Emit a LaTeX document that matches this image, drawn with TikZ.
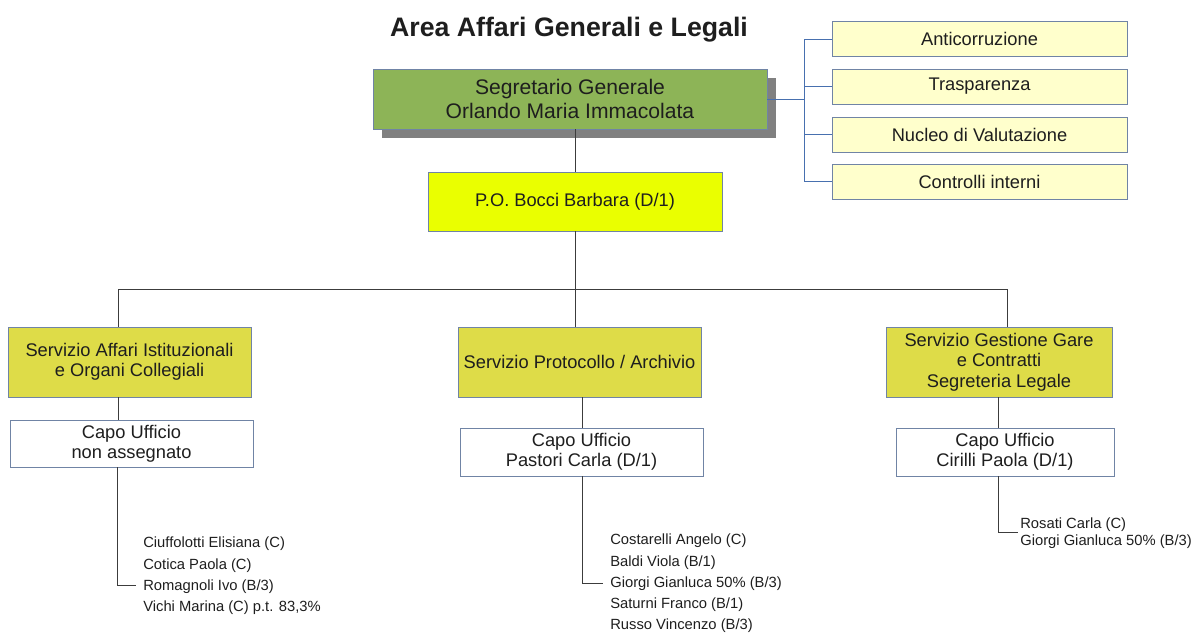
\documentclass[tikz,border=0pt]{standalone}
\usepackage{fontspec}
\setmainfont{Liberation Sans}
\usepackage{tikz}
\usetikzlibrary{shadows}
\definecolor{verde}{RGB}{141,180,87}
\definecolor{giallo}{RGB}{234,255,0}
\definecolor{oliva}{RGB}{222,220,72}
\definecolor{crema}{RGB}{255,255,204}
\definecolor{bordo}{RGB}{112,132,165}
\definecolor{blu}{RGB}{72,112,175}
\definecolor{linea}{RGB}{60,60,60}
\definecolor{testo}{RGB}{30,30,30}

\begin{document}
\begin{tikzpicture}[x=0.025cm, y=-0.025cm,
    box/.style={draw=bordo, line width=0.6pt, align=center, inner sep=0pt, text=testo,
        font=\fontsize{13}{14.5}\selectfont},
    ufficio/.style={box, fill=white},
    servizio/.style={box, fill=oliva, minimum height=1.75cm},
    staff/.style={anchor=north west, align=left, inner sep=0pt, text=testo},
    filo/.style={draw=linea, line width=0.6pt}]
    \useasboundingbox (0,0) rectangle (1198,632);

    \node[anchor=base, font=\bfseries\fontsize{19}{21}\selectfont, text=testo] (titolo) at (569,36) {Area Affari Generali e Legali};

    \node[box, fill=verde, minimum width=9.85cm, minimum height=1.5cm, font=\fontsize{15}{16.5}\selectfont,
        drop shadow={shadow xshift=0.225cm, shadow yshift=-0.225cm, fill=black!50, opacity=1}] (seg) at (570,99) {Segretario Generale\\Orlando Maria Immacolata};
    \node[box, fill=giallo, minimum width=7.35cm, minimum height=1.475cm] (po) at (575,201.5) {P.O. Bocci Barbara (D/1)};

    \coordinate (ramo) at (804,99);
    \draw[blu, line width=0.6pt] (seg.east) -- (ramo);
    \foreach \t/\y/\n in {Anticorruzione/39/anti, Trasparenza/86.5/tras, Nucleo di Valutazione/134.5/nucl, Controlli interni/181.5/ctrl}{
        \node[box, fill=crema, minimum width=7.375cm, minimum height=0.875cm] (\n) at (979.5,\y) {\t};
        \draw[blu, line width=0.6pt] (ramo |- \n) -- (\n.west);
    }
    \draw[blu, line width=0.6pt] (ramo |- anti) -- (ramo |- ctrl);

    \node[servizio, minimum width=6.075cm] (svcA) at (129.5,362) {Servizio Affari Istituzionali\\e Organi Collegiali};
    \node[servizio, minimum width=6.075cm] (svcB) at (579.5,362) {Servizio Protocollo / Archivio};
    \node[servizio, minimum width=5.65cm] (svcC) at (999,362) {Servizio Gestione Gare\\e Contratti\\Segreteria Legale};

    \node[ufficio, minimum width=6.075cm, minimum height=1.175cm] (capoA) at (131.5,443.5) {Capo Ufficio\\non assegnato};
    \node[ufficio, minimum width=6.075cm, minimum height=1.2cm] (capoB) at (581.5,452) {Capo Ufficio\\Pastori Carla (D/1)};
    \node[ufficio, minimum width=5.45cm, minimum height=1.2cm] (capoC) at (1005,452) {Capo Ufficio\\Cirilli Paola (D/1)};

    \node[staff, font=\fontsize{10.5}{15}\selectfont] (staffA) at (143,537) {Ciuffolotti Elisiana (C)\\Cotica Paola (C)\\Romagnoli Ivo (B/3)\\Vichi Marina (C) p.t. 83,3\%};
    \node[staff, font=\fontsize{10.5}{15}\selectfont] (staffB) at (610,534) {Costarelli Angelo (C)\\Baldi Viola (B/1)\\Giorgi Gianluca 50\% (B/3)\\Saturni Franco (B/1)\\Russo Vincenzo (B/3)};
    \node[staff, font=\fontsize{10.5}{11.5}\selectfont] (staffC) at (1020,518) {Rosati Carla (C)\\Giorgi Gianluca 50\% (B/3)};

    \coordinate (asse) at (575,289);
    \coordinate (busL) at (118,289);
    \coordinate (busR) at (1007,289);
    \draw[filo] (seg.south -| asse) -- (po.north -| asse);
    \draw[filo] (po.south -| asse) -- (asse);
    \draw[filo] (busL) -- (busR);
    \draw[filo] (busL) -- (svcA.north -| busL);
    \draw[filo] (asse) -- (svcB.north -| asse);
    \draw[filo] (busR) -- (svcC.north -| busR);

    \coordinate (tA) at (117,585);
    \coordinate (pA) at (136,585);
    \coordinate (tB) at (582,583);
    \coordinate (pB) at (603,583);
    \coordinate (tC) at (998,532);
    \coordinate (pC) at (1018,532);
    \draw[filo] (svcA.south -| busL) -- (capoA.north -| busL);
    \draw[filo] (svcB.south -| tB) -- (capoB.north -| tB);
    \draw[filo] (svcC.south -| tC) -- (capoC.north -| tC);
    \draw[filo] (capoA.south -| tA) -- (tA) -- (pA);
    \draw[filo] (capoB.south -| tB) -- (tB) -- (pB);
    \draw[filo] (capoC.south -| tC) -- (tC) -- (pC);
\end{tikzpicture}
\end{document}
